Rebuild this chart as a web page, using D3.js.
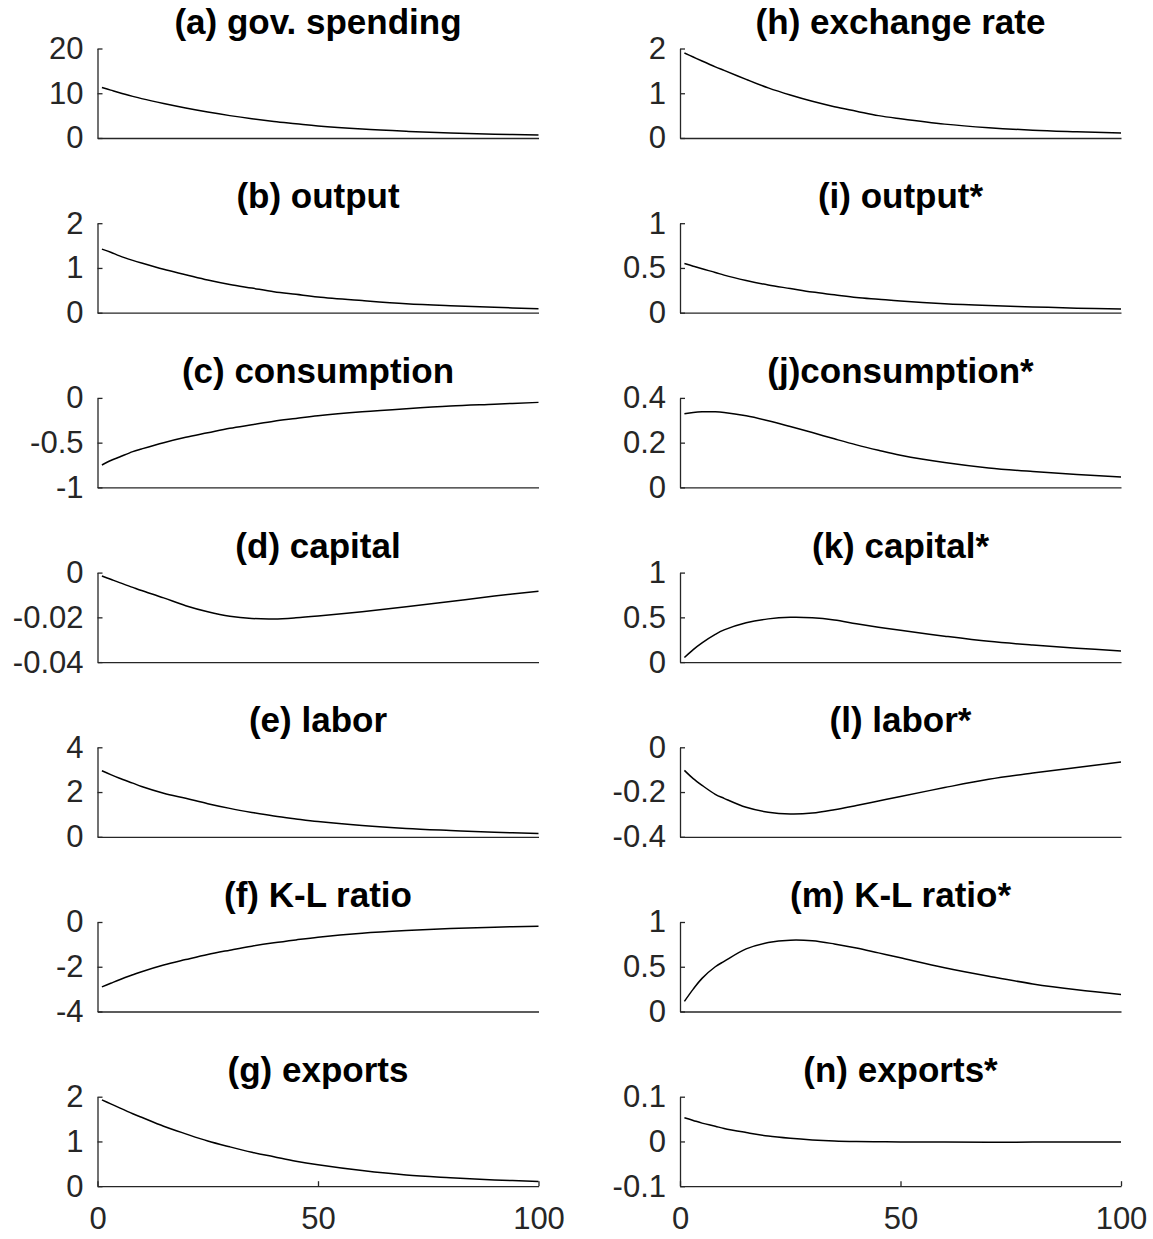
<!DOCTYPE html>
<html>
<head>
<meta charset="utf-8">
<script src="https://cdn.jsdelivr.net/npm/d3@7"></script>
<style>
  body { margin: 0; background: #fff; }
  svg { display: block; font-family: 'Liberation Sans', Arial, sans-serif; }
</style>
</head>
<body>
<div id="chart"></div>
<script>
const periods = [1, 3, 5, 8, 10, 15, 20, 25, 30, 35, 40, 45, 50, 60, 70, 80, 90, 100];

const govSpending = [11.3, 10.7, 10.1, 9.3, 8.8, 7.7, 6.7, 5.8, 5.0, 4.3, 3.7, 3.2, 2.7, 2.0, 1.5, 1.1, 0.85, 0.65];
const output = [1.42, 1.35, 1.27, 1.17, 1.11, 0.97, 0.85, 0.73, 0.63, 0.55, 0.47, 0.41, 0.35, 0.27, 0.2, 0.155, 0.12, 0.09];
const consumption = [-0.75, -0.70, -0.66, -0.60, -0.57, -0.50, -0.44, -0.39, -0.34, -0.30, -0.26, -0.23, -0.2, -0.155, -0.12, -0.09, -0.07, -0.05];
const capital = [-0.0015, -0.003, -0.0045, -0.0066, -0.008, -0.0113, -0.0148, -0.0175, -0.0195, -0.0205, -0.0207, -0.0202, -0.0194, -0.0175, -0.0153, -0.0129, -0.0105, -0.0083];
const labor = [2.95, 2.78, 2.62, 2.4, 2.25, 1.95, 1.72, 1.48, 1.27, 1.09, 0.93, 0.8, 0.68, 0.5, 0.37, 0.28, 0.2, 0.15];
const klRatio = [-2.9, -2.74, -2.58, -2.36, -2.22, -1.92, -1.68, -1.45, -1.26, -1.08, -0.93, -0.8, -0.68, -0.5, -0.38, -0.29, -0.23, -0.19];
const exportsH = [1.93, 1.84, 1.75, 1.62, 1.54, 1.34, 1.17, 1.01, 0.88, 0.76, 0.66, 0.56, 0.48, 0.35, 0.25, 0.19, 0.14, 0.105];
const exchangeRate = [1.9, 1.81, 1.72, 1.59, 1.51, 1.31, 1.12, 0.96, 0.82, 0.7, 0.6, 0.5, 0.43, 0.31, 0.23, 0.175, 0.14, 0.11];
const outputF = [0.55, 0.52, 0.49, 0.45, 0.42, 0.36, 0.31, 0.27, 0.23, 0.2, 0.17, 0.15, 0.13, 0.1, 0.08, 0.065, 0.05, 0.04];
const consumptionF = [0.329, 0.335, 0.338, 0.338, 0.335, 0.32, 0.298, 0.272, 0.245, 0.217, 0.19, 0.166, 0.144, 0.111, 0.087, 0.071, 0.058, 0.047];
const capitalF = [0.052, 0.14, 0.215, 0.31, 0.36, 0.44, 0.483, 0.5, 0.495, 0.47, 0.428, 0.39, 0.355, 0.29, 0.232, 0.19, 0.155, 0.125];
const laborF = [-0.103, -0.14, -0.17, -0.21, -0.228, -0.268, -0.29, -0.298, -0.294, -0.279, -0.26, -0.24, -0.22, -0.18, -0.143, -0.115, -0.09, -0.066];
const klRatioF = [0.113, 0.25, 0.37, 0.5, 0.56, 0.7, 0.77, 0.797, 0.79, 0.755, 0.71, 0.655, 0.6, 0.49, 0.395, 0.308, 0.242, 0.19];
const exportsF = [0.053, 0.047, 0.041, 0.034, 0.029, 0.02, 0.012, 0.007, 0.0035, 0.0012, 0.0, -0.0006, -0.001, -0.0015, -0.0017, -0.0015, -0.0012, -0.001];

const titles = [
  '(a) gov. spending', '(b) output', '(c) consumption', '(d) capital', '(e) labor', '(f) K-L ratio', '(g) exports',
  '(h) exchange rate', '(i) output*', '(j)consumption*', '(k) capital*', '(l) labor*', '(m) K-L ratio*', '(n) exports*'
];
const series = [
  govSpending, output, consumption, capital, labor, klRatio, exportsH,
  exchangeRate, outputF, consumptionF, capitalF, laborF, klRatioF, exportsF
];
const yTicks = [
  [0, 10, 20], [0, 1, 2], [-1, -0.5, 0], [-0.04, -0.02, 0], [0, 2, 4], [-4, -2, 0], [0, 1, 2],
  [0, 1, 2], [0, 0.5, 1], [0, 0.2, 0.4], [0, 0.5, 1], [-0.4, -0.2, 0], [0, 0.5, 1], [-0.1, 0, 0.1]
];
const xTicks = [0, 50, 100];

const width = 1153;
const height = 1239;
const cols = [[97.5, 538.5], [680, 1121]];
const rowTop = 48.5;
const rowStep = 174.7;
const panelH = 89.5;
const axisColor = '#262626';

const svg = d3.select('#chart')
  .append('svg')
  .attr('width', width)
  .attr('height', height);

svg.append('rect').attr('width', width).attr('height', height).attr('fill', '#fff');

series.forEach((vals, i) => {
  const col = Math.floor(i / 7);
  const row = i % 7;
  const [x0, x1] = cols[col];
  const top = rowTop + row * rowStep;
  const bottom = top + panelH;
  const ticks = yTicks[i];

  const x = d3.scaleLinear().domain([0, 100]).range([x0, x1]);
  const y = d3.scaleLinear().domain([ticks[0], ticks[ticks.length - 1]]).range([bottom, top]);

  const g = svg.append('g');

  // y axis, ticks pointing inward
  const ya = g.append('g')
    .attr('transform', `translate(${x0},0)`)
    .call(d3.axisLeft(y).tickValues(ticks).tickSizeInner(-5).tickSizeOuter(0)
      .tickPadding(14).tickFormat((d) => String(d)));
  ya.select('.domain').attr('stroke', axisColor).attr('stroke-width', 1.3);
  ya.selectAll('.tick line').attr('stroke', axisColor).attr('stroke-width', 1.3);
  ya.selectAll('.tick text')
    .attr('fill', axisColor)
    .style('font-size', '31px');

  // x axis: labels only on the bottom row
  const last = row === 6;
  const xa = g.append('g')
    .attr('transform', `translate(0,${bottom})`)
    .call(d3.axisBottom(x).tickValues(last ? xTicks : []).tickSizeInner(-5).tickSizeOuter(0)
      .tickPadding(21).tickFormat((d) => String(d)));
  xa.select('.domain').attr('stroke', axisColor).attr('stroke-width', 1.3);
  xa.selectAll('.tick line').attr('stroke', axisColor).attr('stroke-width', 1.3);
  xa.selectAll('.tick text')
    .attr('fill', axisColor)
    .style('font-size', '31px');

  const line = d3.line()
    .curve(d3.curveCatmullRom.alpha(0.5))
    .x((d, j) => x(periods[j]))
    .y((d) => y(d));

  g.append('path')
    .datum(vals)
    .attr('fill', 'none')
    .attr('stroke', '#000')
    .attr('stroke-width', 1.5)
    .attr('d', line);

  g.append('text')
    .attr('x', (x0 + x1) / 2)
    .attr('y', top - 15)
    .attr('text-anchor', 'middle')
    .style('font-size', '35px')
    .style('font-weight', 'bold')
    .attr('fill', '#000')
    .text(titles[i]);
});
</script>
</body>
</html>
